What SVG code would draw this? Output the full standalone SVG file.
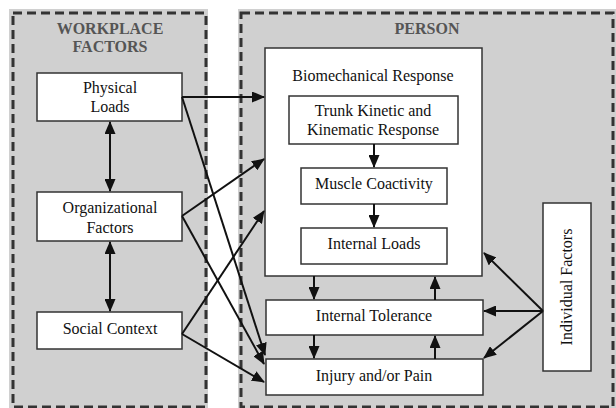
<svg xmlns="http://www.w3.org/2000/svg" width="616" height="408" viewBox="0 0 616 408">
<defs>
<marker id="ah" markerUnits="userSpaceOnUse" markerWidth="13" markerHeight="11" refX="12" refY="5.5" orient="auto-start-reverse">
<path d="M0,0 L13,5.5 L0,11 z" fill="#111"/>
</marker>
</defs>
<style>
.panel{fill:#d0d0d0;}
.dash{fill:none;stroke:#333;stroke-width:3;stroke-dasharray:9 5;}
.box{fill:#fff;stroke:#333;stroke-width:1.5;}
.t{font-size:16px;fill:#111;text-anchor:middle;}
.h{font-size:16px;font-weight:bold;fill:#555;text-anchor:middle;}
.ca{fill:none;stroke:#111;stroke-width:2;marker-end:url(#ah);}
.cb{fill:none;stroke:#111;stroke-width:2;marker-end:url(#ah);marker-start:url(#ah);}
</style>
<rect width="616" height="408" fill="#fff"/>
<g font-family="'Liberation Serif', 'DejaVu Serif', serif">
<g id="workplace-factors">
<rect class="panel" x="9" y="9" width="199" height="399"/>
<rect class="dash" x="13" y="13" width="193" height="394"/>
<text class="h" x="110" y="34">WORKPLACE</text>
<text class="h" x="110" y="52">FACTORS</text>
</g>
<g id="person">
<rect class="panel" x="238" y="9" width="378" height="399"/>
<rect class="dash" x="241" y="13" width="372" height="394"/>
<text class="h" x="427" y="34">PERSON</text>
</g>
<g id="physical-loads">
<rect class="box" x="37" y="73" width="145" height="48"/>
<text class="t" x="110" y="93">Physical</text>
<text class="t" x="110" y="112">Loads</text>
</g>
<g id="organizational-factors">
<rect class="box" x="37" y="192" width="145" height="49"/>
<text class="t" x="110" y="213">Organizational</text>
<text class="t" x="110" y="233">Factors</text>
</g>
<g id="social-context">
<rect class="box" x="37" y="312" width="145" height="37"/>
<text class="t" x="110" y="334">Social Context</text>
</g>
<g id="biomechanical-response">
<rect class="box" x="265" y="48" width="217" height="228"/>
<text class="t" x="373" y="81">Biomechanical Response</text>
</g>
<g id="trunk-response">
<rect class="box" x="289" y="96" width="169" height="48"/>
<text class="t" x="373" y="116">Trunk Kinetic and</text>
<text class="t" x="373" y="135">Kinematic Response</text>
</g>
<g id="muscle-coactivity">
<rect class="box" x="301" y="168" width="146" height="36"/>
<text class="t" x="374" y="189">Muscle Coactivity</text>
</g>
<g id="internal-loads">
<rect class="box" x="301" y="228" width="146" height="36"/>
<text class="t" x="374" y="249">Internal Loads</text>
</g>
<g id="internal-tolerance">
<rect class="box" x="266" y="300" width="217" height="35"/>
<text class="t" x="374" y="321">Internal Tolerance</text>
</g>
<g id="injury-pain">
<rect class="box" x="266" y="359" width="217" height="36"/>
<text class="t" x="374" y="381">Injury and/or Pain</text>
</g>
<g id="individual-factors">
<rect class="box" x="543" y="203" width="48" height="168"/>
<text class="t" transform="translate(572 287) rotate(-90)">Individual Factors</text>
</g>
</g>
<g id="connectors">
<line class="cb" x1="110" y1="122" x2="110" y2="191"/>
<line class="cb" x1="110" y1="242" x2="110" y2="311"/>
<line class="ca" x1="182" y1="97" x2="264" y2="97"/>
<line class="ca" x1="182" y1="97" x2="265" y2="355"/>
<line class="ca" x1="182" y1="216" x2="264" y2="159"/>
<line class="ca" x1="182" y1="216" x2="264" y2="364"/>
<line class="ca" x1="182" y1="334" x2="264" y2="211"/>
<line class="ca" x1="182" y1="334" x2="264" y2="382"/>
<line class="ca" x1="374" y1="144" x2="374" y2="167"/>
<line class="ca" x1="374" y1="204" x2="374" y2="227"/>
<line class="ca" x1="314" y1="276" x2="314" y2="299"/>
<line class="ca" x1="435" y1="300" x2="435" y2="277"/>
<line class="ca" x1="314" y1="335" x2="314" y2="358"/>
<line class="ca" x1="435" y1="359" x2="435" y2="336"/>
<line class="ca" x1="543" y1="311" x2="484" y2="253"/>
<line class="ca" x1="543" y1="311" x2="484" y2="311"/>
<line class="ca" x1="543" y1="311" x2="484" y2="358"/>
</g>
</svg>
